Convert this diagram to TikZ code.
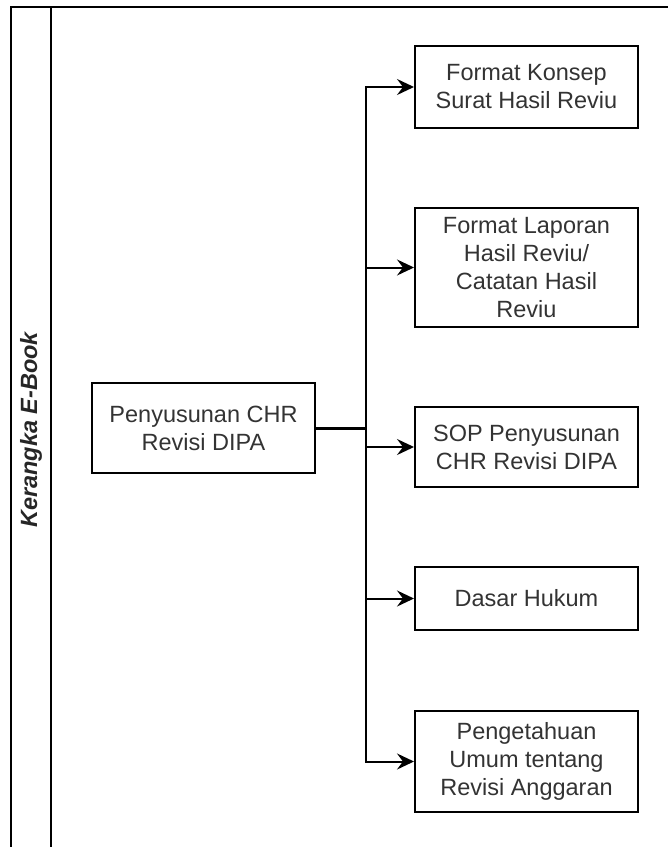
\documentclass[tikz,border=0pt]{standalone}
\usepackage{fontspec}
\setmainfont{Liberation Sans}
\usetikzlibrary{arrows.meta}
\begin{document}
\begin{tikzpicture}[x=1pt,y=-1pt,
  box/.style={draw,line width=2pt,minimum width=223pt,inner sep=0pt,align=center,
    text=black!80,font=\fontsize{23.5}{28}\selectfont},
  link/.style={line width=2pt,-{Stealth[length=17pt,width=16pt,inset=6pt]}}]
\useasboundingbox (0,0) rectangle (668,847);
\draw[line width=2.2pt] (11,847) -- (11,7) -- (668,7);
\draw[line width=2.2pt] (51,7) -- (51,847);
\node[rotate=90,text=black!85,font=\fontsize{23.5}{28}\selectfont\bfseries\itshape] (title) at (31,430) {Kerangka E-Book};

\node[box,minimum height=90pt] (chr) at (203.5,428) {Penyusunan CHR\\Revisi DIPA};

\node[box,minimum height=82pt] (konsep) at (526.5,87) {Format Konsep\\Surat Hasil Reviu};
\node[box,minimum height=119pt] (laporan) at (526.5,267.5) {Format Laporan\\Hasil Reviu/\\Catatan Hasil\\Reviu};
\node[box,minimum height=80pt] (sop) at (526.5,447) {SOP Penyusunan\\CHR Revisi DIPA};
\node[box,minimum height=63pt] (dasar) at (526.5,598.5) {Dasar Hukum};
\node[box,minimum height=101pt] (umum) at (526.5,761.5) {Pengetahuan\\Umum tentang\\Revisi Anggaran};

\draw[line width=3pt] (chr.east) -- ++(50,0);
\draw[link] (chr.east) -- ++(50,0) |- (konsep.west);
\draw[link] (chr.east) -- ++(50,0) |- (laporan.west);
\draw[link] (chr.east) -- ++(50,0) |- (sop.west);
\draw[link] (chr.east) -- ++(50,0) |- (dasar.west);
\draw[link] (chr.east) -- ++(50,0) |- (umum.west);
\end{tikzpicture}
\end{document}
